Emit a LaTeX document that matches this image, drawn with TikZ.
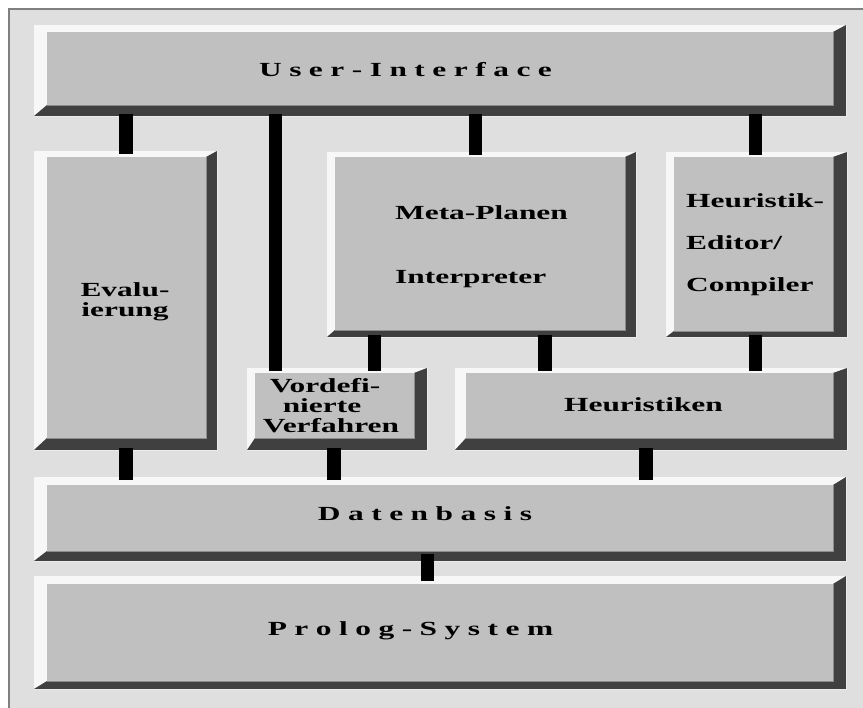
\documentclass[tikz,border=0pt]{standalone}
\usepackage{fontspec}
\newfontfamily\lbfont[FakeStretch=1.57]{Liberation Serif}
\definecolor{bgc}{HTML}{DFDFDF}
\definecolor{litec}{HTML}{F7F7F7}
\definecolor{facec}{HTML}{C0C0C0}
\definecolor{darkc}{HTML}{404040}
\newcommand\lsk{\kern7.5pt}
\newcommand\bevbox[9]{%
  \fill[litec] (#2,#3) rectangle (#4,#5);
  \fill[darkc] (#2,#5) -- (#6,#9) -- (#8,#9) -- (#8,#7) -- (#4,#3) -- (#4,#5) -- cycle;
  \fill[facec] (#6,#7) rectangle (#8,#9);
  \draw[gray!90, line width=0.8pt] (#6,#9) -- (#8,#9) -- (#8,#7);
  \draw[white!92!black, line width=0.8pt] (#2,#5) -- (#4,#5) -- (#4,#3);
  \node[inner sep=0pt, outer sep=0pt, minimum width={(#4-#2)*1pt}, minimum height={(#5-#3)*1pt}] (#1) at ({(#2+#4)/2},{(#3+#5)/2}) {};
}
\tikzset{
  lbl/.style={inner sep=0pt, anchor=base, font=\lbfont\bfseries\fontsize{20}{20}\selectfont},
  lblw/.style={lbl, anchor=base west},
  conn/.style={line width=13.5pt, black, shorten <=-1.5pt, shorten >=-3pt}
}
\begin{document}
\begin{tikzpicture}[x=1pt,y=-1pt]
\useasboundingbox (0,0) rectangle (863,708);
\fill[white] (0,0) rectangle (863,708);
\fill[bgc] (8,8) rectangle (863,708);
\draw[gray, line width=2pt] (9,708) -- (9,9) -- (863,9);
% boxes
\bevbox{ui}{34}{25}{846}{116}{47}{32}{833}{105}
\bevbox{ev}{34}{151}{217}{450}{47}{157}{206}{438}
\bevbox{mp}{327}{152}{636}{337}{335}{157}{625}{330}
\bevbox{ed}{666}{152}{847}{337}{674}{157}{833}{331}
\bevbox{vd}{247}{368}{427}{450}{255}{373}{414}{438}
\bevbox{he}{455}{368}{847}{450}{466}{373}{833}{438}
\bevbox{db}{34}{477}{846}{561}{47}{485}{833}{551}
\bevbox{pr}{34}{576}{846}{689}{47}{584}{833}{681}
% connectors
\draw[conn] (ui.south -| 126,0) -- (ev.north -| 126,0);
\draw[conn] (ui.south -| 275.5,0) -- (vd.north -| 275.5,0);
\draw[conn] (ui.south -| 475.5,0) -- (mp.north -| 475.5,0);
\draw[conn] (ui.south -| 755.5,0) -- (ed.north -| 755.5,0);
\draw[conn] (mp.south -| 374.5,0) -- (vd.north -| 374.5,0);
\draw[conn] (mp.south -| 545,0) -- (he.north -| 545,0);
\draw[conn] (ed.south -| 755.5,0) -- (he.north -| 755.5,0);
\draw[conn] (ev.south -| 126,0) -- (db.north -| 126,0);
\draw[conn] (vd.south -| 334,0) -- (db.north -| 334,0);
\draw[conn] (he.south -| 646,0) -- (db.north -| 646,0);
\draw[conn, shorten <=-7pt, shorten >=-5pt] (db.south -| 427.5,0) -- (pr.north -| 427.5,0);
% labels
\node[lbl] (tui) at (405.5,77) {U\lsk s\lsk e\lsk r\lsk -\lsk I\lsk n\lsk t\lsk e\lsk r\lsk f\lsk a\lsk c\lsk e};
\node[lbl] (tev1) at (125,297) {Evalu-};
\node[lbl] (tev2) at (125,317) {ierung};
\node[lblw] (tmp1) at (395,219.5) {Meta-Planen};
\node[lblw] (tmp2) at (395,284) {Interpreter};
\node[lblw] (ted1) at (686,208) {Heuristik-};
\node[lblw] (ted2) at (686,250) {Editor/};
\node[lblw] (ted3) at (686,292) {Compiler};
\node[lbl] (tvd1) at (325,393) {Vordefi-};
\node[lbl] (tvd2) at (322,413) {nierte};
\node[lbl] (tvd3) at (331,433) {Verfahren};
\node[lbl] (the) at (643.5,411.5) {Heuristiken};
\node[lbl] (tdb) at (425,520.5) {D\lsk a\lsk t\lsk e\lsk n\lsk b\lsk a\lsk s\lsk i\lsk s};
\node[lbl] (tpr) at (410.5,635) {P\lsk r\lsk o\lsk l\lsk o\lsk g\lsk -\lsk S\lsk y\lsk s\lsk t\lsk e\lsk m};
\end{tikzpicture}
\end{document}
